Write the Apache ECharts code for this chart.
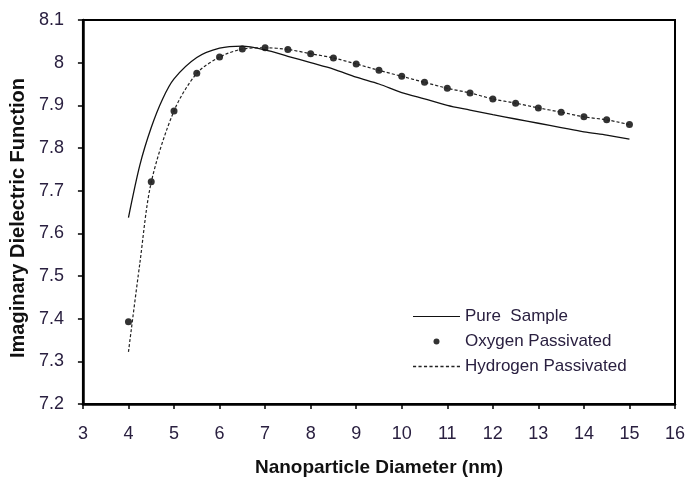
<!DOCTYPE html>
<html><head><meta charset="utf-8">
<script src="https://cdn.jsdelivr.net/npm/echarts@6/dist/echarts.min.js"></script>
<style>html,body{margin:0;padding:0;background:#fff}#c{width:689px;height:482px}</style>
</head><body><div id="c"></div>
<script>
var pureX = [4,4.25,4.5,4.75,5,5.5,6,6.5,7,7.5,8,8.5,9,9.5,10,10.5,11,11.5,12,12.5,13,13.5,14,14.5,15];
var pureY = [7.637,7.76,7.848,7.915,7.962,8.012,8.034,8.039,8.030,8.015,8.000,7.985,7.966,7.950,7.930,7.915,7.900,7.889,7.878,7.868,7.858,7.848,7.838,7.830,7.821];
var oxyX = [4,4.5,5,5.5,6,6.5,7,7.5,8,8.5,9,9.5,10,10.5,11,11.5,12,12.5,13,13.5,14,14.5,15];
var oxyY = [7.393,7.721,7.887,7.975,8.013,8.032,8.035,8.031,8.021,8.011,7.997,7.982,7.968,7.954,7.940,7.929,7.915,7.905,7.894,7.884,7.873,7.866,7.855];
var hydX = [4,4.25,4.5,5,5.5,6,6.5,7,7.5,8,8.5,9,9.5,10,10.5,11,11.5,12,12.5,13,13.5,14,14.5,15];
var hydY = [7.322,7.53,7.72,7.887,7.975,8.013,8.032,8.035,8.031,8.021,8.011,7.997,7.982,7.968,7.954,7.940,7.929,7.915,7.905,7.894,7.884,7.873,7.866,7.855];
var names = ['Pure  Sample','Oxygen Passivated','Hydrogen Passivated'];
var xTitle = 'Nanoparticle Diameter (nm)';
var yTitle = 'Imaginary Dielectric Function';

function zip(a,b){return a.map(function(v,i){return [v,b[i]];});}
var txt = '#2a2040';
var ff = 'Liberation Sans, Arial, sans-serif';
var solidIcon = 'path://M0,0H47V1.2H0Z';
var dashIcon = 'path://';
for (var i = 0; i < 9; i++) { dashIcon += 'M' + (i*5.25) + ',0h3v1.2h-3Z'; }
var chart = echarts.init(document.getElementById('c'));
chart.setOption({
  animation:false,
  backgroundColor:'#fff',
  grid:{left:81,right:14,top:20,bottom:76,show:true,borderColor:'#000',borderWidth:2},
  legend:{
    orient:'vertical',left:408,top:303,itemWidth:47,itemHeight:6,itemGap:8,
    textStyle:{fontFamily:ff,fontSize:17,color:txt},
    data:[
      {name:names[0],icon:solidIcon,itemStyle:{color:'#111',borderWidth:0}},
      {name:names[1],icon:'circle',itemStyle:{color:'#000'}},
      {name:names[2],icon:dashIcon,itemStyle:{color:'#222',borderWidth:0}}
    ]
  },
  xAxis:{type:'value',min:3,max:16,interval:1,
    name:xTitle,nameLocation:'middle',nameGap:54,
    nameTextStyle:{fontFamily:ff,fontWeight:'bold',fontSize:19,color:'#111'},
    axisLine:{lineStyle:{color:'#000',width:2.5}},
    axisTick:{show:true,inside:false,length:5,lineStyle:{color:'#000',width:1.5}},
    axisLabel:{fontFamily:ff,fontSize:18,color:txt,margin:21},
    splitLine:{show:false}},
  yAxis:{type:'value',min:7.2,max:8.1,interval:0.1,
    name:yTitle,nameLocation:'middle',nameGap:51,nameRotate:90,
    nameTextStyle:{fontFamily:ff,fontWeight:'bold',fontSize:20,color:'#111',padding:[0,12,0,0]},
    axisLine:{lineStyle:{color:'#000',width:2.5}},
    axisTick:{show:true,inside:false,length:5,lineStyle:{color:'#000',width:1.5}},
    axisLabel:{fontFamily:ff,fontSize:18,color:txt,margin:19,
      formatter:function(v){return String(parseFloat(v.toFixed(2)));}},
    splitLine:{show:false}},
  series:[
    {name:names[0],type:'line',data:zip(pureX,pureY),smooth:0.3,showSymbol:false,symbol:'none',
      lineStyle:{color:'#111',width:1.3},itemStyle:{color:'#111'}},
    {name:names[1],type:'scatter',data:zip(oxyX,oxyY),symbol:'circle',symbolSize:7,
      itemStyle:{color:'#000'}},
    {name:names[2],type:'line',data:zip(hydX,hydY),smooth:0.3,showSymbol:false,symbol:'none',
      lineStyle:{color:'#222',width:1.2,type:[3,2]},itemStyle:{color:'#222'}}
  ]
});
</script></body></html>
